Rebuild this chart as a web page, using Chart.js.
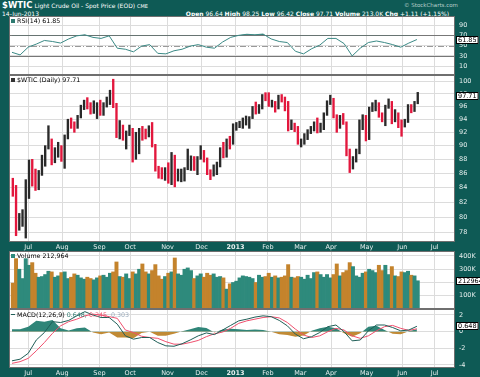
<!DOCTYPE html>
<html>
<head>
<meta charset="utf-8">
<title>$WTIC</title>
<script src="https://cdn.jsdelivr.net/npm/chart.js@4.4.1/dist/chart.umd.min.js"></script>
<style>
body{margin:0;width:480px;height:377px;background:#0e5a55;position:relative;overflow:hidden;font-family:"DejaVu Sans",sans-serif;}
canvas{position:absolute;left:9px;}
.t{position:absolute;white-space:nowrap;font-size:6px;line-height:7px;}
.lg{position:absolute;white-space:nowrap;font-size:6.3px;line-height:7px;color:#000;left:11px;}
.ic{display:inline-block;width:4px;height:4px;margin-right:2px;}
</style>
</head>
<body>
<div class="t" style="left:2px;top:0px;color:#fff;line-height:10px"><b style="font-size:8.5px">$WTIC</b> Light Crude Oil - Spot Price (EOD) <span style="font-size:5px">CME</span></div>
<div class="t" style="left:2px;top:10px;color:#fff">14-Jun-2013</div>
<div class="t" style="left:404px;top:2px;color:#b9cfcc;font-size:5.5px">&copy; StockCharts.com</div>
<div class="t" style="right:31px;top:10px;color:#fff"><b>Open</b> 96.64 <b>High</b> 98.25 <b>Low</b> 96.42 <b>Close</b> 97.71 <b>Volume</b> 213.0K <b>Chg</b> +1.11 (+1.15%)</div>

<canvas id="rsiChart" width="471" height="59" style="top:16px"></canvas>
<canvas id="priceChart" width="471" height="176" style="top:75px"></canvas>
<canvas id="volChart" width="471" height="58" style="top:251px"></canvas>
<canvas id="macdChart" width="471" height="68" style="top:309px"></canvas>

<div class="lg" style="top:17px"><span class="ic" style="background:#2e7a70"></span>RSI(14) 61.85</div>
<div class="lg" style="top:76px"><span class="ic" style="background:#333"></span>$WTIC (Daily) 97.71</div>
<div class="lg" style="top:252px"><span class="ic" style="background:#2e8a7c"></span>Volume 212,964</div>
<div class="lg" style="top:311px"><span class="ic" style="background:#1f5f58;height:1px;vertical-align:2px"></span>MACD(12,26,9) <span style="color:#2e7a70">0.648,</span> <span style="color:#e8506c">0.345,</span> <span style="color:#9ab">0.303</span></div>

<script>
// month starts, as trading-day index from 18-Jun-2012
const monthIdx=[10,31,54,73,96,117,138,158,178,197,219,241,261];
const monthLbl=["Jul","Aug","Sep","Oct","Nov","Dec","2013","Feb","Mar","Apr","May","Jun","Jul"];

// price, in 2-day bins
const hi=[85.3,84.3,80.5,81.0,85.1,87.9,88.0,86.6,86.4,88.6,90.0,93.0,91.0,89.7,90.5,90.0,91.6,94.0,94.2,93.6,
94.6,96.2,97.0,97.4,96.6,96.9,96.6,97.0,96.6,97.5,98.6,100.4,96.5,93.8,93.1,92.2,93.1,92.6,92.0,92.6,
92.9,92.5,93.0,93.5,90.2,87.0,86.8,86.8,87.5,89.0,88.6,86.6,86.6,86.8,89.5,88.5,88.4,88.4,90.0,89.3,
88.2,86.5,87.2,87.6,89.7,90.5,91.0,91.4,93.3,93.5,93.7,94.2,94.5,94.4,96.0,96.7,96.3,97.9,98.2,98.2,
97.0,96.8,97.8,97.9,97.5,96.8,93.9,93.4,92.9,91.0,91.8,92.4,92.9,93.6,94.2,93.4,95.0,96.9,97.8,97.3,
94.7,94.6,94.9,93.6,89.5,88.4,89.5,93.9,94.7,94.6,95.9,96.6,97.0,96.6,95.0,96.2,97.2,96.8,95.5,95.0,
93.9,94.0,96.3,96.3,96.8,98.25];
const lo=[82.8,77.6,78.3,78.8,77.3,82.5,84.2,83.6,83.7,85.7,87.0,89.5,87.2,87.5,88.3,87.7,86.7,91.0,92.6,92.0,
92.6,94.2,95.5,95.6,94.8,94.9,94.1,94.6,94.6,95.9,96.3,95.8,91.2,91.0,90.8,89.5,91.5,87.6,88.0,88.8,
90.8,91.0,91.3,89.8,86.3,85.3,85.2,85.0,84.6,84.4,84.1,84.9,84.8,84.9,86.5,86.4,86.4,85.8,88.0,87.6,
85.8,85.1,85.6,85.8,86.9,88.2,88.3,89.5,90.2,92.3,92.7,92.6,93.1,92.6,94.1,94.8,94.9,95.6,96.9,96.0,
95.9,95.1,95.6,96.7,95.3,92.2,92.4,92.1,90.2,89.8,90.2,90.9,91.8,92.2,91.9,92.0,92.4,94.6,96.3,94.2,
92.0,92.6,93.2,88.5,86.1,86.6,87.6,88.8,92.4,90.7,90.9,95.2,95.3,94.3,93.6,93.0,95.7,93.3,93.6,92.7,
91.4,92.8,93.5,95.0,95.2,96.42];
const cl=[84.0,78.2,79.2,80.2,85.0,87.7,84.5,83.9,86.1,88.4,89.9,91.4,88.5,89.4,89.8,88.9,91.4,93.7,93.4,92.7,
94.3,96.0,96.7,96.3,95.5,95.5,96.5,95.4,96.4,97.2,98.3,96.6,92.0,92.9,91.4,91.9,92.5,88.1,89.9,92.4,
92.1,91.9,92.1,90.1,86.7,86.0,85.6,86.2,84.9,88.7,85.1,85.6,86.3,86.7,86.8,88.3,86.7,88.1,89.1,87.9,
85.9,85.8,85.9,87.2,89.5,88.7,91.0,90.8,93.1,93.1,93.2,93.8,94.1,94.2,95.6,95.2,95.9,97.6,97.5,96.2,
96.6,95.7,97.5,97.3,96.7,92.8,93.1,92.8,90.7,90.8,91.6,92.1,92.5,93.5,92.1,92.5,94.8,96.6,97.1,94.5,
92.7,94.2,93.5,88.7,86.7,88.0,89.2,93.6,94.5,91.0,95.6,95.6,96.4,94.8,94.3,96.0,96.3,94.3,94.7,93.6,
93.5,93.7,96.0,95.4,96.7,97.71];
// volume (thousands), same bins
const vol=[195,380,300,230,380,330,350,270,240,245,260,285,280,240,250,275,280,230,240,265,
255,235,225,240,230,220,235,250,255,240,270,280,355,245,240,265,230,280,265,300,
340,280,265,290,335,250,225,245,270,280,385,265,255,300,310,290,230,250,265,240,
270,255,265,240,245,235,150,190,200,210,235,250,245,240,230,200,255,240,245,270,
240,250,235,240,250,335,240,235,245,240,225,255,230,275,280,260,240,260,235,260,
340,250,275,290,350,320,250,240,270,280,300,290,275,330,290,330,260,320,250,245,
280,275,285,255,250,213];

// indicators, every 5 trading days
const rsi=[37,32,47,53,60,58,55,63,69,71,66,64,69,45,43,38,49,52,35,34,
40,43,49,52,47,45,57,66,70,72,71,72.5,63,58,56,39,34,44,51,64,
64,54,30,45,56,59,56,52,47,55,61.85];
const macd=[-3.5,-3.3,-2.6,-1.0,-0.1,1.2,1.1,1.35,1.9,2.4,2.0,1.7,1.7,0.9,-0.5,-0.9,-0.7,-0.7,-1.3,-1.7,
-1.75,-1.45,-1.0,-0.5,-0.15,-0.35,0.2,0.75,1.3,1.5,1.75,1.9,1.8,1.35,0.7,-0.3,-0.85,-0.6,-0.1,0.6,
0.8,0.0,-1.1,-1.0,0.1,0.8,0.8,0.5,0.1,0.2,0.648];
const signal=[-3.8,-3.6,-3.2,-2.3,-1.3,-0.2,0.7,1.2,1.5,1.9,2.1,2.0,1.8,1.6,0.2,-0.1,-0.55,-0.7,-0.8,-1.2,
-1.5,-1.5,-1.3,-1.05,-0.6,-0.25,-0.05,0.4,1.0,1.3,1.5,1.7,1.8,1.65,1.1,0.3,-0.4,-0.7,-0.5,0.0,
0.4,0.2,-0.5,-0.8,-0.5,0.1,0.6,0.75,0.4,0.15,0.345];

const rsiTicks=[10,30,50,70,90];
const priceTicks=[78,80,82,84,86,88,90,92,94,96,98,100];
const volTicks=[100,200,300,400];
const macdTicks=[-4,-2,0,2];

const FONT="DejaVu Sans";
const GRID="#dcdcdc";
const AXIS_TXT="#e6efee";

const binX=k=>k*2+0.5;
const wkX=i=>i*5;
const up=k=>k>0 && cl[k]>=cl[k-1];

const panelBg={
	id:"panelBg",
	beforeDraw(chart){
		const {ctx,chartArea:a}=chart;
		ctx.save();
		ctx.fillStyle="#fff";
		ctx.fillRect(a.left,a.top,a.right-a.left,a.bottom-a.top);
		ctx.restore();
	},
	afterDraw(chart){
		const {ctx,chartArea:a}=chart;
		ctx.save();
		ctx.strokeStyle="#6f6f6f";
		ctx.lineWidth=1;
		ctx.strokeRect(a.left+0.5,a.top+0.5,a.right-a.left-1,a.bottom-a.top-1);
		ctx.restore();
	}
};

const refLines={
	id:"refLines",
	beforeDatasetsDraw(chart,args,o){
		if(!o.lines) return;
		const {ctx,chartArea:a}=chart;
		o.lines.forEach(l=>{
			const y=Math.round(chart.scales.y.getPixelForValue(l.v))+0.5;
			ctx.save();
			ctx.strokeStyle=l.color;
			ctx.lineWidth=1;
			ctx.setLineDash(l.dash||[]);
			ctx.beginPath();ctx.moveTo(a.left,y);ctx.lineTo(a.right,y);ctx.stroke();
			ctx.restore();
		});
	}
};

const lastBox={
	id:"lastBox",
	afterDraw(chart,args,o){
		if(o.text===undefined) return;
		const ctx=chart.ctx;
		const y=Math.round(chart.scales.y.getPixelForValue(o.value));
		const x=chart.chartArea.right+1;
		ctx.save();
		ctx.font="6.5px '"+FONT+"'";
		const w=Math.max(ctx.measureText(o.text).width+4,22);
		ctx.fillStyle="#fff";
		ctx.fillRect(x,y-4,w,8);
		ctx.strokeStyle="#000";
		ctx.lineWidth=1;
		ctx.strokeRect(x+0.5,y-3.5,w-1,7);
		ctx.fillStyle="#000";
		ctx.textBaseline="middle";
		ctx.fillText(o.text,x+2,y+0.5);
		ctx.restore();
	}
};

function xScale(labels){
	return {
		type:"linear",min:-1.85,max:273.5,offset:false,
		afterBuildTicks:s=>{s.ticks=monthIdx.map(v=>({value:v}));},
		grid:{color:GRID,drawTicks:false,offset:false},
		border:{display:false},
		ticks:{
			display:labels,autoSkip:false,maxRotation:0,padding:1,color:AXIS_TXT,
			font:c=>({family:FONT,size:6.5,weight:monthLbl[c.index]==="2013"?"bold":"normal"}),
			callback:(v,i)=>monthLbl[i]
		},
		afterFit:s=>{s.height=labels?9:0;s.paddingLeft=0;s.paddingRight=0;}
	};
}

function yScale(extra,tickVals,fmt){
	return Object.assign({
		position:"right",
		afterBuildTicks:s=>{s.ticks=tickVals.map(v=>({value:v}));},
		grid:{color:GRID,drawTicks:false},
		border:{display:false},
		ticks:{color:AXIS_TXT,padding:4,font:{family:FONT,size:6.5},callback:fmt||(v=>String(v))},
		afterFit:s=>{s.width=25;s.paddingTop=0;s.paddingBottom=0;}
	},extra);
}

function baseOptions(scales,pluginOpts){
	return {
		responsive:false,animation:false,devicePixelRatio:1,
		layout:{padding:0},
		plugins:Object.assign({legend:{display:false},tooltip:{enabled:false}},pluginOpts),
		scales:scales
	};
}

// RSI
new Chart(document.getElementById("rsiChart"),{
	type:"line",
	data:{datasets:[{
		data:rsi.map((v,i)=>({x:wkX(i),y:v})),
		borderColor:"#3b8a86",borderWidth:1,pointRadius:0,tension:0,
		fill:{target:{value:70},above:"#27695f",below:"rgba(0,0,0,0)"}
	}]},
	options:baseOptions({x:xScale(false),y:yScale({min:-7,max:107.5},rsiTicks)},{
		refLines:{lines:[{v:70,color:"#777"},{v:30,color:"#777"},{v:50,color:"#999",dash:[6,2,1,2]}]},
		lastBox:{value:61.85,text:"61.85"}
	}),
	plugins:[panelBg,refLines,lastBox]
});

// price bars
new Chart(document.getElementById("priceChart"),{
	type:"bar",
	data:{datasets:[{
		data:hi.map((h,k)=>({x:binX(k),y:[lo[k],h]})),
		backgroundColor:cl.map((c,k)=>up(k)?"#2a2a2a":"#e3173d"),
		barThickness:1.7,grouped:false
	}]},
	options:baseOptions({x:xScale(true),y:yScale({type:"logarithmic",min:76.8,max:101.1},priceTicks)},{
		lastBox:{value:97.71,text:"97.71"}
	}),
	plugins:[panelBg,lastBox]
});

// volume
new Chart(document.getElementById("volChart"),{
	type:"bar",
	data:{datasets:[{
		data:vol.map((v,k)=>({x:binX(k),y:v})),
		backgroundColor:vol.map((v,k)=>up(k)?"#2e8a7c":"#c4832c"),
		barThickness:3.3,grouped:false
	}]},
	options:baseOptions({x:xScale(false),y:yScale({min:0,max:437.7},volTicks,v=>v+"K")},{
		lastBox:{value:213,text:"212964"}
	}),
	plugins:[panelBg,lastBox]
});

// MACD
new Chart(document.getElementById("macdChart"),{
	type:"line",
	data:{datasets:[
		{data:macd.map((v,i)=>({x:wkX(i),y:v})),borderColor:"#1f5f58",borderWidth:1,pointRadius:0,order:1},
		{data:signal.map((v,i)=>({x:wkX(i),y:v})),borderColor:"#f0506e",borderWidth:1,pointRadius:0,order:2},
		{data:macd.map((v,i)=>({x:wkX(i),y:v-signal[i]})),borderColor:"rgba(0,0,0,0)",borderWidth:1,pointRadius:0,order:3,
			fill:{target:"origin",above:"#2f8578",below:"#c08a35"}}
	]},
	options:baseOptions({x:xScale(true),y:yScale({min:-4.36,max:2.72},macdTicks)},{
		lastBox:{value:0.648,text:"0.648"}
	}),
	plugins:[panelBg,lastBox]
});
</script>
</body>
</html>
